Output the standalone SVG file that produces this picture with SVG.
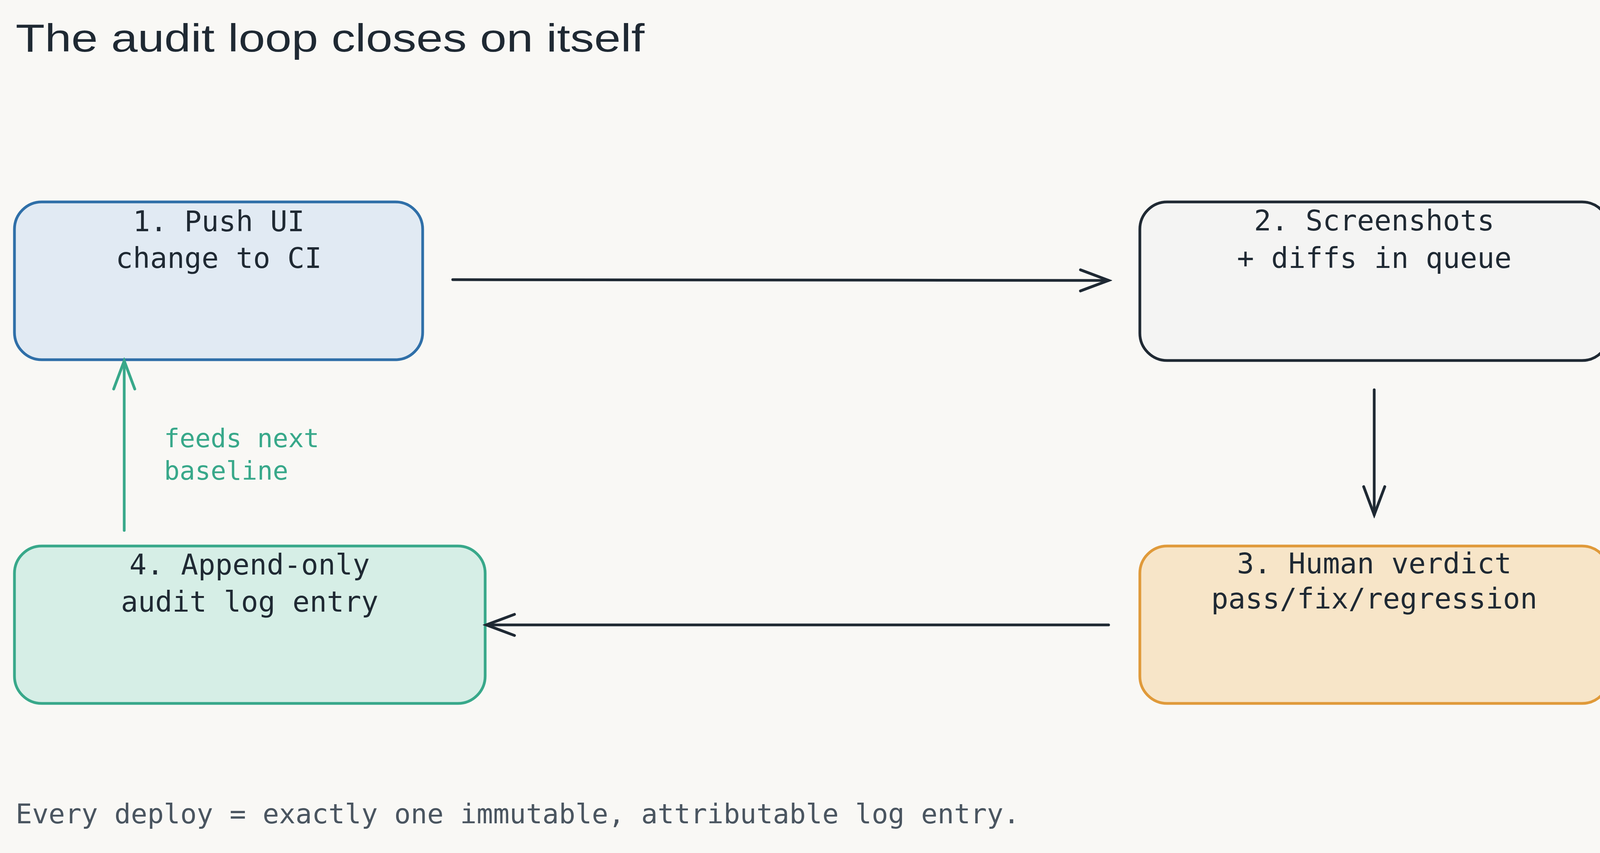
<svg xmlns="http://www.w3.org/2000/svg" width="4160" height="2184" viewBox="0 0 4160 2184">
<defs>
<style>
.t{font-family:"DejaVu Sans Mono","Liberation Mono",monospace;font-size:73px;fill:#1f2933;text-anchor:middle}
.n{stroke-width:7}
.c{fill:none;stroke-width:7;stroke-linecap:round;stroke-linejoin:round}
</style>
<marker id="ad" viewBox="0 0 20 20" refX="18" refY="10" markerWidth="90" markerHeight="90" markerUnits="userSpaceOnUse" orient="auto"><path d="M2,4 L18,10 L2,16" fill="none" stroke="#1f2933" stroke-width="1.6" stroke-linecap="round"/></marker>
<marker id="ag" viewBox="0 0 20 20" refX="18" refY="10" markerWidth="90" markerHeight="90" markerUnits="userSpaceOnUse" orient="auto"><path d="M2,4 L18,10 L2,16" fill="none" stroke="#38a88a" stroke-width="1.6" stroke-linecap="round"/></marker>
</defs>
<rect width="4160" height="2184" fill="#f9f8f5"/>
<text x="40" y="132" font-family="'Comic Sans MS','Liberation Sans',cursive" font-size="100" fill="#1f2933" textLength="1610" lengthAdjust="spacingAndGlyphs">The audit loop closes on itself</text>
<g id="node1"><rect class="n" x="37" y="517" width="1045" height="404" rx="70" fill="#e1eaf3" stroke="#2f6fa8"/><text class="t" x="560" y="592">1. Push UI</text><text class="t" x="560" y="686">change to CI</text></g>
<g id="node2"><rect class="n" x="2918" y="517" width="1202" height="406" rx="70" fill="#f4f4f3" stroke="#1f2933"/><text class="t" x="3518" y="590">2. Screenshots</text><text class="t" x="3518" y="686">+ diffs in queue</text></g>
<g id="node3"><rect class="n" x="2918" y="1398" width="1202" height="403" rx="70" fill="#f7e5c8" stroke="#e09a3a"/><text class="t" x="3518" y="1468">3. Human verdict</text><text class="t" x="3518" y="1558">pass/fix/regression</text></g>
<g id="node4"><rect class="n" x="37" y="1398" width="1205" height="403" rx="70" fill="#d6eee6" stroke="#38a88a"/><text class="t" x="639" y="1471">4. Append-only</text><text class="t" x="639" y="1566">audit log entry</text></g>
<g id="connectors">
<path class="c" d="M1159,716 L2838,718" stroke="#1f2933" marker-end="url(#ad)"/>
<path class="c" d="M3518,998 L3518,1318" stroke="#1f2933" marker-end="url(#ad)"/>
<path class="c" d="M2838,1600 L1245,1600" stroke="#1f2933" marker-end="url(#ad)"/>
<path class="c" d="M318,1358 L318,924" stroke="#38a88a" marker-end="url(#ag)"/>
<text x="420" y="1145" font-family="'DejaVu Sans Mono',monospace" font-size="66" fill="#38a88a">feeds next</text>
<text x="420" y="1228" font-family="'DejaVu Sans Mono',monospace" font-size="66" fill="#38a88a">baseline</text>
</g>
<text x="40" y="2108" font-family="'DejaVu Sans Mono',monospace" font-size="70" fill="#4a5560">Every deploy = exactly one immutable, attributable log entry.</text>
</svg>
